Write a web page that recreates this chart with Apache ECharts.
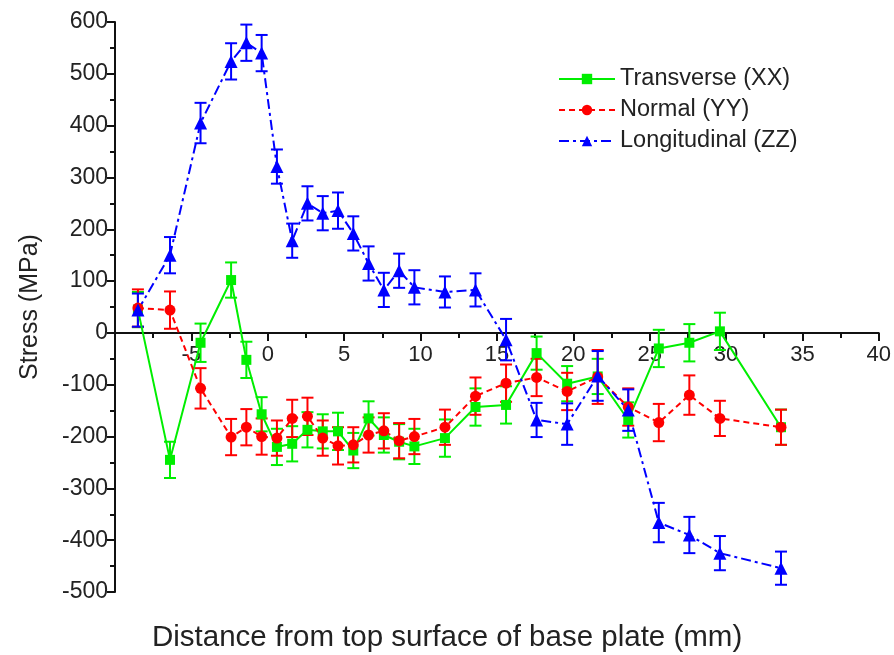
<!DOCTYPE html>
<html>
<head>
<meta charset="utf-8">
<script src="https://cdn.jsdelivr.net/npm/echarts@6/dist/echarts.min.js"></script>
<style>
  html, body { margin: 0; padding: 0; background: #fff; }
  #chart { width: 894px; height: 655px; }
</style>
</head>
<body>
<div id="chart"></div>
<script>
// distance from top surface (mm), shared by all three series
const distance = [-8.5, -6.4, -4.4, -2.4, -1.4, -0.4, 0.6, 1.6, 2.6, 3.6, 4.6, 5.6, 6.6, 7.6,
  8.6, 9.6, 11.6, 13.6, 15.6, 17.6, 19.6, 21.6, 23.6, 25.6, 27.6, 29.6, 33.6];

const transverseXX = [45, -245, -19, 102, -52, -157, -220, -214, -187, -190, -190, -227, -165, -197,
  -210, -219, -203, -143, -139, -39, -98, -84, -168, -30, -19, 3, -182];
const transverseErr = [34, 35, 37, 34, 35, 33, 35, 34, 34, 33, 36, 34, 33, 34,
  34, 34, 36, 36, 36, 32, 34, 34, 34, 36, 36, 36, 34];

const normalYY = [48, 44, -107, -201, -182, -200, -203, -165, -161, -203, -218, -216, -197, -189,
  -208, -200, -182, -122, -97, -86, -113, -85, -143, -173, -120, -165, -182];
const normalErr = [36, 36, 39, 35, 35, 35, 34, 36, 36, 34, 36, 34, 34, 34,
  34, 34, 34, 36, 36, 36, 36, 52, 36, 36, 38, 34, 34];

const longitudinalZZ = [44, 150, 405, 524, 560, 540, 321, 178, 250, 231, 236, 192, 134, 83,
  120, 88, 79, 83, -13, -168, -176, -83, -149, -366, -390, -425, -454];
const longitudinalErr = [32, 35, 39, 35, 35, 35, 33, 33, 33, 33, 35, 33, 33, 33,
  33, 33, 30, 32, 40, 33, 40, 48, 40, 38, 35, 33, 32];

const xTicks = { min: -10, max: 40, step: 5 };
const yTicks = { min: -500, max: 600, step: 100 };

const FONT = '"Liberation Sans", Arial, sans-serif';
const GRID = { left: 115, right: 13, top: 22, bottom: 63 };
const plotH = 655 - GRID.top - GRID.bottom;
// x axis sits on y = 0, so shift it up from the grid bottom
const zeroOffset = -plotH * (0 - yTicks.min) / (yTicks.max - yTicks.min);

function pairs(ys) {
  return distance.map((x, i) => [x, ys[i]]);
}

function bars(ys, errs) {
  return distance.map((x, i) => [x, ys[i] - errs[i], ys[i] + errs[i]]);
}

function errorBarSeries(name, ys, errs, color) {
  return {
    type: 'custom',
    name: name + ' err',
    z: 2,
    silent: true,
    encode: { x: 0, y: [1, 2] },
    data: bars(ys, errs),
    renderItem: (params, api) => {
      const x = api.value(0);
      const lo = api.coord([x, api.value(1)]);
      const hi = api.coord([x, api.value(2)]);
      const half = 6;
      const style = { stroke: color, lineWidth: 2 };
      return {
        type: 'group',
        children: [
          { type: 'line', shape: { x1: lo[0], y1: lo[1], x2: hi[0], y2: hi[1] }, style },
          { type: 'line', shape: { x1: lo[0] - half, y1: lo[1], x2: lo[0] + half, y2: lo[1] }, style },
          { type: 'line', shape: { x1: hi[0] - half, y1: hi[1], x2: hi[0] + half, y2: hi[1] }, style },
        ],
      };
    },
  };
}

const chart = echarts.init(document.getElementById('chart'));
chart.setOption({
  animation: false,
  backgroundColor: '#fff',
  grid: GRID,
  legend: {
    orient: 'vertical',
    left: 553,
    top: 62,
    itemWidth: 56,
    itemHeight: 13,
    itemGap: 7,
    textStyle: { fontFamily: FONT, fontSize: 23.5, color: '#222' },
    data: ['Transverse (XX)', 'Normal (YY)', 'Longitudinal (ZZ)'],
  },
  graphic: [{
    type: 'text',
    left: 152,
    top: 623,
    style: {
      text: 'Distance from top surface of base plate (mm)',
      font: '29.5px ' + FONT,
      fill: '#222',
    },
  }],
  xAxis: {
    type: 'value',
    position: 'bottom',
    offset: zeroOffset,
    min: xTicks.min,
    max: xTicks.max,
    interval: xTicks.step,
    axisLine: { show: true, onZero: false, lineStyle: { color: '#111', width: 2 } },
    axisTick: { show: true, length: 8, lineStyle: { color: '#111', width: 2 } },
    minorTick: { show: true, splitNumber: 2, length: 5, lineStyle: { color: '#111', width: 2 } },
    splitLine: { show: false },
    axisLabel: {
      margin: 11,
      fontFamily: FONT,
      fontSize: 22,
      color: '#222',
      formatter: v => (v === xTicks.min ? '' : String(v)),
    },
  },
  yAxis: {
    type: 'value',
    min: yTicks.min,
    max: yTicks.max,
    interval: yTicks.step,
    name: 'Stress (MPa)',
    nameLocation: 'middle',
    nameGap: 72,
    nameTextStyle: { fontFamily: FONT, fontSize: 25, color: '#222' },
    axisLine: { show: true, onZero: false, lineStyle: { color: '#111', width: 2 } },
    axisTick: { show: true, length: 8, lineStyle: { color: '#111', width: 2 } },
    minorTick: { show: true, splitNumber: 2, length: 5, lineStyle: { color: '#111', width: 2 } },
    splitLine: { show: false },
    axisLabel: { margin: 7, fontFamily: FONT, fontSize: 23, color: '#222' },
  },
  series: [
    errorBarSeries('Transverse (XX)', transverseXX, transverseErr, '#00ee00'),
    errorBarSeries('Normal (YY)', normalYY, normalErr, '#ff0000'),
    errorBarSeries('Longitudinal (ZZ)', longitudinalZZ, longitudinalErr, '#0000ff'),
    {
      type: 'line',
      name: 'Transverse (XX)',
      z: 3,
      data: pairs(transverseXX),
      symbol: 'rect',
      symbolSize: 10,
      color: '#00ee00',
      lineStyle: { width: 2, type: 'solid' },
    },
    {
      type: 'line',
      name: 'Normal (YY)',
      z: 3,
      data: pairs(normalYY),
      symbol: 'circle',
      symbolSize: 11,
      color: '#ff0000',
      lineStyle: { width: 2, type: [6, 4] },
    },
    {
      type: 'line',
      name: 'Longitudinal (ZZ)',
      z: 3,
      data: pairs(longitudinalZZ),
      symbol: 'triangle',
      symbolSize: 13,
      color: '#0000ff',
      lineStyle: { width: 2, type: [10, 4, 3, 4] },
    },
  ],
});
</script>
</body>
</html>
